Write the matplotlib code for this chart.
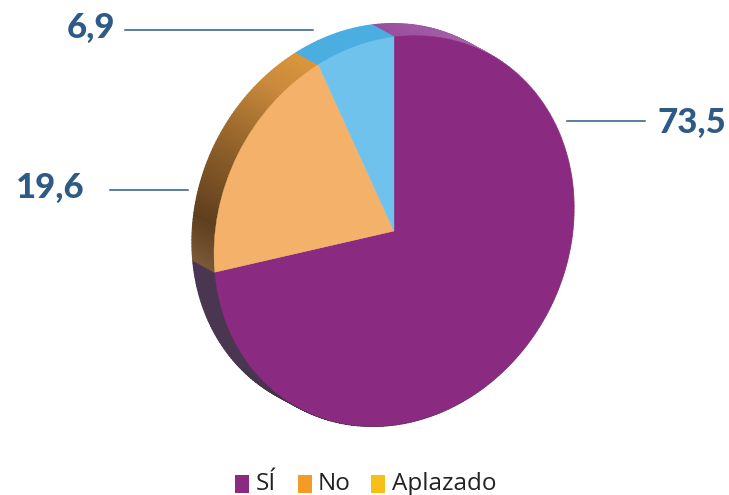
import numpy as np
import matplotlib
matplotlib.use("Agg")
import matplotlib.pyplot as plt
from matplotlib.patches import Rectangle, Polygon
from matplotlib.transforms import Affine2D
from matplotlib.colors import to_rgb

values = [73.5, 19.6, 6.9]
value_labels = ["73,5", "19,6", "6,9"]
legend_names = ["SÍ", "No", "Aplazado"]

face_colors = ["#8a2a80", "#f4b169", "#6ec2ec"]
legend_colors = ["#8a2a80", "#f29b26", "#f6c014"]
ink = "#2d5a86"

W, H = 729, 495
fig = plt.figure(figsize=(W / 100, H / 100), dpi=100, facecolor="white")
ax = fig.add_axes([0, 0, 1, 1])

# Tilted, sheared disc: unit pie -> pixel-like axes coordinates
CX, CY, RX, RY, SHEAR = 394, 231, 180, 194, 0.128
to_px = Affine2D(np.array([[RX, 0, CX], [-SHEAR * RX, -RY, CY], [0, 0, 1.0]]))
DEPTH = np.array([-22.0, -12.0])

wedges, _ = ax.pie(values, colors=face_colors, startangle=90, counterclock=False,
                   wedgeprops={"linewidth": 0})

# side-wall colour stops: (angle in degrees, colour)
side_stops = [
    [(90, "#9a4f9e"), (60, "#a565a8"), (40, "#b58ab8"),
     (-175, "#4a3650"), (-140, "#4a3650"), (-110, "#3e3040")],
    [(186, "#7a5a38"), (172, "#5f3f1e"), (150, "#8f6029"), (128, "#c98a3c"), (115, "#dc963c")],
    [(115, "#4aaee0"), (90, "#4aaee0")],
]


def stop_colour(stops, ang):
    pts = sorted(stops, key=lambda s: s[0])
    xs = [p[0] for p in pts]
    rgb = np.array([to_rgb(p[1]) for p in pts])
    return [float(np.interp(ang, xs, rgb[:, i])) for i in range(3)]


for k, (w, stops) in enumerate(zip(wedges, side_stops)):
    t1, t2 = w.theta1, w.theta2
    n = max(int((t2 - t1) / 1.0), 2)
    ts = np.linspace(t1, t2, n + 1)
    unit = np.column_stack([np.cos(np.radians(ts)), np.sin(np.radians(ts))])
    front = to_px.transform(unit)
    back = front + DEPTH
    for i in range(n):
        mid = ((ts[i] + ts[i + 1]) / 2) % 360
        a = mid - 360 if (k == 0 and mid > 90) else mid
        col = stop_colour(stops, a)
        ax.add_patch(Polygon([front[i], front[i + 1], back[i + 1], back[i]],
                             closed=True, facecolor=col, edgecolor=col,
                             linewidth=0.9, joinstyle="round", zorder=1))

for w in wedges:
    w.set_transform(to_px + ax.transData)
    w.set_zorder(2)
    w.set_clip_on(False)
    w.set_edgecolor(w.get_facecolor())
    w.set_linewidth(0.3)

ax.set_xlim(0, W)
ax.set_ylim(H, 0)
ax.set_aspect("auto")
ax.axis("off")

# leader lines and value labels
leaders = [((567, 645), 121), ((110, 188), 190), ((125, 313), 30)]
label_xy = [(692, 123), (50, 188), (91, 28)]
for (xs, y), txt, (lx, ly) in zip(leaders, value_labels, label_xy):
    ax.plot(xs, [y, y], color=ink, lw=1.1, zorder=3)
    ax.text(lx, ly, txt, color=ink, fontsize=25, fontweight=900, family="Lato",
            ha="center", va="center")

# legend
swatch_x = [235, 298, 371]
text_x = [256, 318, 392]
for x, tx, name, col in zip(swatch_x, text_x, legend_names, legend_colors):
    ax.add_patch(Rectangle((x, 475), 14, 18, facecolor=col, edgecolor="none"))
    ax.text(tx, 489.5, name, color="#222222", fontsize=17.5, family="Open Sans",
            ha="left", va="baseline")

fig.savefig("out.png", dpi=100)
